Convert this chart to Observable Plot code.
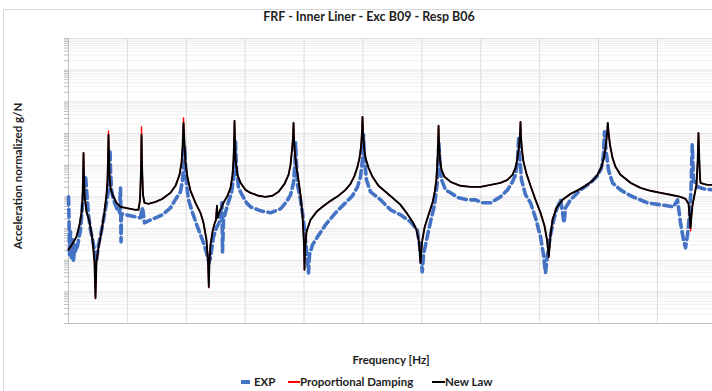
<!DOCTYPE html>
<html>
<head>
<meta charset="utf-8">
<script src="https://cdn.jsdelivr.net/npm/d3@7"></script>
<script src="https://cdn.jsdelivr.net/npm/@observablehq/plot@0.6"></script>
<style>
  html, body { margin: 0; padding: 0; background: #fff; }
  #wrap { position: relative; width: 712px; height: 391px; overflow: hidden; font-family: Lato, "Open Sans", sans-serif; color: #1e1e1e; }
  .abs { position: absolute; white-space: nowrap; font-weight: bold; }
</style>
</head>
<body>
<div id="wrap">
  <div style="position:absolute;left:3px;top:9px;width:900px;height:600px;border:1px solid #d9d9d9;"></div>
  <div id="chart" style="position:absolute;left:0;top:0;"></div>
  <div id="title" class="abs" style="font-size:12.5px;top:9px;left:0;width:738px;text-align:center;">FRF - Inner Liner - Exc B09 - Resp B06</div>
  <div id="ylab" class="abs" style="font-size:11.5px;left:17px;top:176px;transform:translate(-50%,-50%) rotate(-90deg);">Acceleration normalized g/N</div>
  <div id="xlab" class="abs" style="font-size:11.5px;top:353px;left:0;width:782px;text-align:center;">Frequency [Hz]</div>
  <div id="legend" class="abs" style="font-size:11.5px;top:374px;left:0;height:16px;"></div>
</div>
<script>
// ---- data (frequency in Hz, magnitude in g/N) ----
const newLawFreq = [0,6.8,13.6,18.7,22.1,23.8,24.6,25.5,26.3,27.2,
30.6,35.7,40.8,44.1,45.8,47.5,50.9,56.0,61.1,64.5,
66.2,67.1,67.9,68.8,69.6,71.3,74.7,81.5,88.3,96.8,
105.3,113.8,118.9,121.4,123.1,124.0,124.8,126.5,129.0,135.8,
147.7,159.6,173.2,181.7,188.5,191.9,193.6,195.3,197.0,198.7,
202.1,207.2,215.6,224.1,229.2,234.3,236.9,238.2,239.4,241.1,
244.5,247.9,250.4,251.3,252.2,253.0,256.4,263.2,270.0,275.1,
278.5,280.2,281.2,281.9,282.7,283.6,286.9,292.1,300.5,309.0,
322.6,334.5,346.4,356.6,366.8,373.6,377.0,379.5,381.2,382.1,
382.9,384.6,387.2,390.5,393.9,397.3,399.9,400.7,401.6,404.1,
410.9,421.1,431.3,444.9,458.4,470.3,478.8,485.6,490.7,494.1,
496.7,498.4,499.2,500.1,501.8,504.3,509.4,516.2,526.4,538.3,
550.2,563.7,574.0,584.2,591.0,595.1,597.7,600.3,604.5,611.3,
618.1,622.4,624.9,626.6,627.5,628.3,629.2,630.9,633.4,638.4,
648.6,665.6,682.6,699.6,716.6,733.5,745.4,753.9,759.0,762.4,
764.9,766.6,767.5,768.3,770.0,772.6,777.7,784.5,793.0,801.5,
808.2,812.5,815.5,818.4,821.8,828.6,838.8,852.4,865.9,877.8,
889.7,898.2,905.0,909.2,912.6,914.7,915.7,916.9,919.4,923.7,
928.8,937.3,954.3,971.3,988.2,1005.2,1022.2,1039.2,1047.7,1052.8,
1054.5,1056.2,1057.9,1059.6,1063.0,1066.3,1068.4,1069.7,1071.1,1072.3,
1073.1,1078.2,1085.0,1093.5];
const newLawVal = [0.0212,0.0328,0.0546,0.131,0.313,0.804,3.44,24.5,4.95,1.16,
0.336,0.163,0.0439,0.00888,0.000647,0.00888,0.0245,0.0785,0.336,1.16,
3.44,14.7,90.7,21.2,4.95,1.92,1.16,0.647,0.483,0.449,
0.418,0.389,0.389,0.804,7.12,90.7,10.2,1.16,0.647,0.601,
0.695,0.865,1.34,2.23,4.95,11.8,35.3,217,43.9,11.8,
3.98,1.55,0.647,0.313,0.151,0.0439,0.00888,0.00144,0.00888,0.0305,
0.0785,0.141,0.188,0.336,0.520,0.217,0.336,0.647,1.08,1.92,
4.95,14.7,54.6,251,54.6,14.7,4.95,2.77,1.66,1.34,
1.08,1,1.08,1.44,2.57,4.95,10.2,30.5,73.0,217,
63.1,21.2,8.24,3.44,1.16,0.270,0.0305,0.00495,0.0212,0.0785,
0.188,0.336,0.483,0.747,1.08,1.66,2.57,4.60,8.85,17.0,
37.9,113,336,113,37.9,17.0,8.24,4.28,2.23,1.44,
0.930,0.559,0.313,0.163,0.0908,0.0379,0.00825,0.0379,0.105,0.270,
0.647,1.66,3.98,14.7,43.9,175,43.9,14.7,7.12,4.28,
2.98,2.23,2.07,2.07,2.39,2.77,3.44,4.95,8.24,17.0,
37.9,90.7,233,78.5,30.5,12.7,5.32,2.23,0.804,0.313,
0.122,0.0439,0.0127,0.0587,0.188,0.449,0.804,1.24,1.66,2.23,
3.20,4.95,8.85,17.0,43.9,113,217,113,43.9,17.0,
8.85,4.95,2.77,1.92,1.55,1.34,1.16,1,0.865,0.601,
0.270,0.105,0.270,0.559,1.16,2.39,14.7,105,14.7,3.98,
2.77,2.57,2.39,2.39];
const propFreq = newLawFreq;
const propVal = [0.0212,0.0328,0.0546,0.131,0.313,0.804,3.44,24.5,4.95,1.16,
0.336,0.163,0.0439,0.00888,0.000601,0.00888,0.0245,0.0785,0.336,1.16,
3.44,14.7,121,21.2,4.95,1.92,1.16,0.647,0.483,0.449,
0.418,0.389,0.389,0.804,7.12,162,10.2,1.16,0.647,0.601,
0.695,0.865,1.34,2.23,4.95,11.8,35.3,312,43.9,11.8,
3.98,1.55,0.647,0.313,0.151,0.0439,0.00888,0.00134,0.00888,0.0305,
0.0785,0.141,0.188,0.336,0.520,0.217,0.336,0.647,1.08,1.92,
4.95,14.7,54.6,251,54.6,14.7,4.95,2.77,1.66,1.34,
1.08,1,1.08,1.44,2.57,4.95,10.2,30.5,73.0,217,
63.1,21.2,8.24,3.44,1.16,0.270,0.0305,0.00495,0.0212,0.0785,
0.188,0.336,0.483,0.747,1.08,1.66,2.57,4.60,8.85,17.0,
37.9,113,336,113,37.9,17.0,8.24,4.28,2.23,1.44,
0.930,0.559,0.313,0.163,0.0908,0.0379,0.00825,0.0379,0.105,0.270,
0.647,1.66,3.98,14.7,43.9,175,43.9,14.7,7.12,4.28,
2.98,2.23,2.07,2.07,2.39,2.77,3.44,4.95,8.24,17.0,
37.9,90.7,233,78.5,30.5,12.7,5.32,2.23,0.804,0.313,
0.122,0.0439,0.0127,0.0587,0.188,0.449,0.804,1.24,1.66,2.23,
3.20,4.95,8.85,17.0,43.9,113,217,113,43.9,17.0,
8.85,4.95,2.77,1.92,1.55,1.34,1.16,1,0.865,0.601,
0.270,0.0845,0.270,0.559,1.16,2.39,14.7,105,14.7,3.98,
2.77,2.57,2.39,2.39];
const expFreq = [0,0.8,1.7,3.4,5.1,6.8,8.5,10.2,11.9,15.3,
20.4,23.8,27.2,28.9,30.6,34.0,37.4,40.8,44.1,47.5,
50.9,54.3,59.4,64.5,67.9,69.6,70.5,71.3,73.0,76.4,
81.5,86.6,88.3,89.2,90.0,96.8,105.3,113.8,122.3,124.8,
126.5,129.0,135.8,147.7,159.6,173.2,183.4,190.2,193.6,196.1,
197.5,198.7,200.4,203.8,210.6,219.0,229.2,234.3,238.6,241.1,
246.2,251.3,256.4,260.6,261.5,263.2,270.0,276.8,281.0,283.6,
285.3,288.7,293.8,302.2,309.0,326.0,343.0,360.0,370.2,377.0,
382.1,384.6,385.5,387.2,388.9,393.9,399.0,402.4,405.8,407.5,
409.2,414.3,422.8,436.4,453.4,470.3,482.2,490.7,495.8,499.2,
500.9,502.6,506.0,512.8,529.8,546.8,563.7,580.7,592.1,596.0,
600.6,602.8,609.1,614.7,621.5,625.8,627.5,628.8,630.9,633.4,
640.2,648.6,662.2,677.5,691.1,703.0,716.6,733.5,745.4,753.9,
759.0,762.4,764.6,766.6,769.2,776.0,784.5,793.0,801.5,806.6,
809.9,813.3,818.4,824.0,828.6,835.4,838.8,841.4,843.9,852.4,
869.4,886.4,898.2,905.0,908.4,910.1,912.6,916.9,923.7,937.3,
954.3,983.2,1005.2,1027.3,1034.1,1039.2,1044.3,1047.7,1051.1,1054.5,
1057.0,1059.1,1061.3,1068.0,1078.2,1093.5];
const expVal = [1,0.270,0.0147,0.0785,0.0119,0.0439,0.00888,0.0305,0.0183,0.0283,
0.0908,0.559,2.39,4.60,1.66,0.270,0.0908,0.0439,0.0212,0.00888,
0.0305,0.0587,0.188,0.647,1.66,8.24,30.5,7.12,1.66,0.804,
0.449,0.313,1.92,0.0379,0.291,0.270,0.251,0.234,0.217,0.449,
0.361,0.151,0.175,0.217,0.270,0.449,0.930,1.44,3.44,10.2,
37.9,10.2,2.39,0.804,0.313,0.113,0.0353,0.0171,0.00825,0.0119,
0.0546,0.105,0.163,0.647,0.0183,0.188,0.559,1.34,4.95,54.6,
7.12,1.92,1.24,0.647,0.483,0.361,0.313,0.418,0.695,1.16,
2.77,11.8,50.7,10.2,2.39,0.804,0.188,0.0439,0.0103,0.00398,
0.0147,0.0305,0.0546,0.131,0.313,0.647,1.08,2.07,4.28,14.7,
90.7,14.7,3.44,1.44,0.804,0.389,0.270,0.163,0.0908,0.0305,
0.00429,0.0147,0.0546,0.163,0.559,2.39,10.2,54.6,10.2,3.44,
1.66,1.34,0.930,0.804,0.804,0.647,0.647,1,1.66,2.98,
4.95,14.7,78.5,14.7,3.44,1.16,0.647,0.217,0.0546,0.0147,
0.00398,0.0147,0.0631,0.188,0.389,0.804,0.336,0.151,0.449,0.804,
1.66,2.77,4.60,8.24,21.2,113,30.5,7.12,2.77,1.66,
1.08,0.647,0.559,0.483,0.804,0.151,0.0439,0.0245,0.0631,0.270,
1.66,43.9,3.44,2.07,1.79,1.66];

const seriesNames = ["EXP", "Proportional Damping", "New Law"];
const seriesColors = ["#4472C4", "#FF0000", "#000000"];
const xGridTicks = [0,100,200,300,400,500,600,700,800,900,1000];
const yDecades = [1e-4,1e-3,1e-2,1e-1,1,10,100,1e3,1e4,1e5];

// ---- build tables ----
const toRows = (fs, vs) => fs.map((f, i) => ({f, v: vs[i]}));
const expRows = toRows(expFreq, expVal);
const propRows = toRows(propFreq, propVal);
const newRows = toRows(newLawFreq, newLawVal);
const yMinor = [];
for (const d of yDecades.slice(0, -1)) for (let k = 2; k <= 9; k++) yMinor.push(d * k);

const chart = Plot.plot({
  width: 712,
  height: 391,
  marginLeft: 68,
  marginRight: 0,
  marginTop: 38,
  marginBottom: 68,
  x: {domain: [0, 1093.5], axis: null, label: null},
  y: {type: "log", domain: [1e-4, 1e5], axis: null, label: null},
  style: {background: "transparent"},
  marks: [
    Plot.gridY(yMinor, {stroke: "#f0f0f0", strokeOpacity: 1}),
    Plot.gridY(yDecades, {stroke: "#e3e3e3", strokeOpacity: 1}),
    Plot.gridX(xGridTicks.slice(1), {stroke: "#dcdcdc", strokeOpacity: 1}),
    Plot.axisY(yMinor.concat(yDecades), {tickSize: 4, tickFormat: () => "", label: null, color: "#bfbfbf"}),
    Plot.ruleX([0], {stroke: "#bfbfbf"}),
    Plot.ruleY([1e-4], {stroke: "#bfbfbf"}),
    Plot.line(expRows, {x: "f", y: "v", stroke: seriesColors[0], strokeWidth: 3.6, strokeDasharray: "8,4.5"}),
    Plot.line(propRows, {x: "f", y: "v", stroke: seriesColors[1], strokeWidth: 1.4}),
    Plot.line(newRows, {x: "f", y: "v", stroke: seriesColors[2], strokeWidth: 1.9})
  ]
});
document.getElementById("chart").appendChild(chart);

// ---- legend ----
const legend = document.getElementById("legend");
const legendItems = [
  {name: seriesNames[0], color: seriesColors[0], sx: 241, sw: 9, w: 3.5, tx: 254},
  {name: seriesNames[1], color: seriesColors[1], sx: 288, sw: 12, w: 1.8, tx: 300},
  {name: seriesNames[2], color: seriesColors[2], sx: 432, sw: 13, w: 1.8, tx: 445}
];
for (const it of legendItems) {
  const sw = document.createElement("div");
  sw.style.cssText = `position:absolute;left:${it.sx}px;top:${8 - it.w/2}px;width:${it.sw}px;height:${it.w}px;background:${it.color};`;
  legend.appendChild(sw);
  const t = document.createElement("span");
  t.textContent = it.name;
  t.style.cssText = `position:absolute;left:${it.tx}px;top:0;line-height:16px;`;
  legend.appendChild(t);
}
</script>
</body>
</html>
